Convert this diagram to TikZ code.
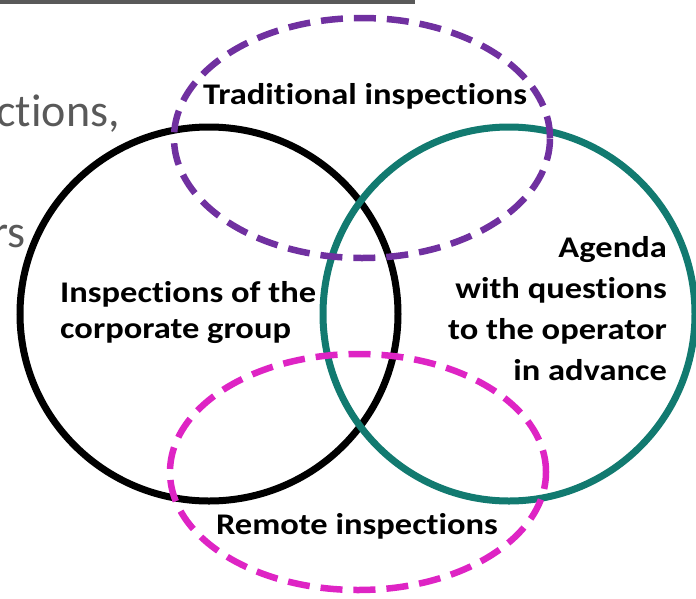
\documentclass[tikz,border=0pt]{standalone}
\usepackage{fontspec}
\setmainfont[Ligatures=NoCommon]{Carlito}
\newfontfamily\widefont[Ligatures=NoCommon, FakeStretch=1.15]{Carlito}
\usetikzlibrary{shapes,positioning}
\definecolor{slidegray}{RGB}{89,89,89}
\definecolor{tradpurple}{RGB}{112,48,160}
\definecolor{agendateal}{RGB}{18,122,112}
\definecolor{remotepink}{RGB}{222,36,196}
\tikzstyle{set} = [ellipse, draw, line width=7pt, inner sep=0pt]
\tikzstyle{dashset} = [set, line width=6.5pt, dash pattern=on 22pt off 11pt]
\tikzstyle{settext} = [font=\widefont\bfseries\fontsize{30}{36}\selectfont, inner sep=0pt]
\tikzstyle{slidetext} = [font=\fontsize{46}{52}\selectfont, text=slidegray, inner sep=0pt]

\begin{document}
\begin{tikzpicture}[x=1pt, y=-1pt]
	\useasboundingbox (0,0) rectangle (696,598);
	\clip (0,0) rectangle (696,598);
	% Slide leftovers
	\fill [slidegray] (0,0) rectangle (415,4);
	\node [slidetext, anchor=base east] (word1) at (120,126) {ctions,};
	\node [slidetext, anchor=base east] (word2) at (26,247) {rs};
	% Place sets
	\node [set, minimum width=378pt, minimum height=374pt] (group) at (209,314) {};
	\node [set, draw=agendateal, minimum width=372pt, minimum height=374pt] (agenda) at (509,314) {};
	\node [dashset, draw=tradpurple, minimum width=376pt, minimum height=240pt] (trad) at (362,138) {};
	\node [dashset, draw=remotepink, minimum width=376pt, minimum height=236pt] (remote) at (358,472) {};
	% Place texts
	\node [settext, anchor=base] (tradtext) at (365,104) {Traditional inspections};
	\node [settext, align=left, anchor=base west] (grouptext) at (60,338) {Inspections of the\\corporate group};
	\node [settext, align=right, anchor=base east, font=\widefont\bfseries\fontsize{30}{41}\selectfont] (agendatext) at (667,380) {Agenda\\with questions\\to the operator\\in advance};
	\node [settext, anchor=base] (remotetext) at (357,534) {Remote inspections};
\end{tikzpicture}
\end{document}
